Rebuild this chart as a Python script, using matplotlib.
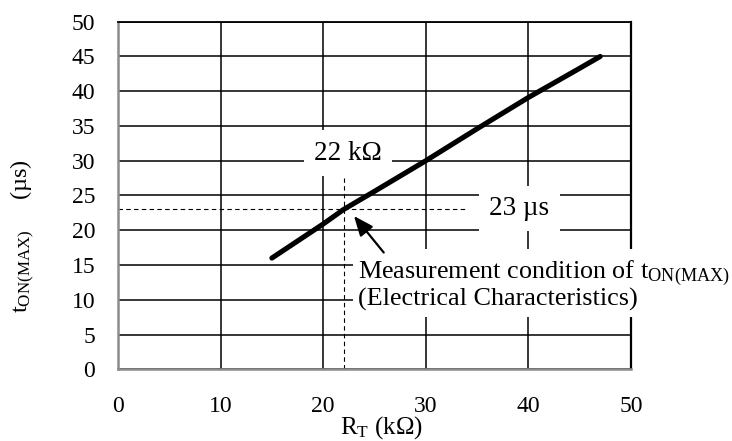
import matplotlib
matplotlib.use('Agg')
import matplotlib.pyplot as plt

plt.rcParams['font.family'] = 'Liberation Serif'
plt.rcParams['mathtext.fontset'] = 'custom'
plt.rcParams['mathtext.rm'] = 'Liberation Serif'

# curve
rt_kohm = [15, 20, 22, 25, 30, 35, 40, 45, 47]
ton_max_us = [16, 20.9, 23, 25.6, 30, 34.6, 39.1, 43.3, 45]

# measurement condition point
cond_rt = 22
cond_ton = 23

x_ticks = [0, 10, 20, 30, 40, 50]
y_ticks = [0, 5, 10, 15, 20, 25, 30, 35, 40, 45, 50]

fig = plt.figure(figsize=(7.32, 4.41), dpi=100)
ax = fig.add_axes([0.1612, 0.1626, 0.7008, 0.7882])

ax.plot(rt_kohm, ton_max_us, color='black', lw=3.7, solid_capstyle='round', zorder=4)

# dashed guides to the measurement point
ax.plot([0, 33.8], [cond_ton, cond_ton], color='black', lw=0.8, dashes=(4, 3), zorder=2)
ax.plot([cond_rt, cond_rt], [0, 27.5], color='black', lw=0.8, dashes=(4, 3), zorder=2)

ax.set_xlim(0, 50)
ax.set_ylim(0, 50)
ax.set_xticks(x_ticks)
ax.set_yticks(y_ticks)
ax.tick_params(length=0, labelsize=17)
ax.tick_params(axis='y', pad=16.5)
ax.tick_params(axis='x', pad=19.5)
ax.grid(True, color='black', lw=1.1)
ax.set_axisbelow(True)

for side in ['left', 'bottom']:
    ax.spines[side].set_color('#8c8c8c')
    ax.spines[side].set_linewidth(1.8)
ax.spines['top'].set_color('black')
ax.spines['top'].set_linewidth(1.3)
ax.spines['right'].set_color('black')
ax.spines['right'].set_linewidth(1.6)

box = dict(facecolor='white', edgecolor='none', pad=7.5)
ax.text(22.4, 31.1, '22 k\u03a9', fontsize=19.5, ha='center', va='center', bbox=box, zorder=5)
ax.text(39.1, 23.1, '23 \u00b5s', fontsize=19.5, ha='center', va='center', bbox=box, zorder=5)
ax.text(23.4, 15.9,
        'Measurement condition of $\\mathregular{t_{ON(MAX)}}$\n(Electrical Characteristics)',
        fontsize=18.8, ha='left', va='top', linespacing=1.0,
        bbox=dict(facecolor='white', edgecolor='none', pad=4), zorder=5, clip_on=False)

ax.annotate('', xy=(23.0, 22.05), xytext=(25.9, 16.8),
            arrowprops=dict(arrowstyle='-|>,head_length=0.6,head_width=0.25', color='black',
                            lw=1.6, mutation_scale=20, shrinkA=0, shrinkB=0), zorder=6)

ax.set_xlabel('$\\mathregular{R_T}$ (k\u03a9)', fontsize=18)
ax.xaxis.set_label_coords(0.513, -0.128)
fig.text(23 / 732, 1 - 236 / 441, '$\\mathregular{t_{ON(MAX)}}$     (\u00b5s)',
         fontsize=17.5, rotation=90, ha='center', va='center')

fig.savefig('out.png', dpi=100)
